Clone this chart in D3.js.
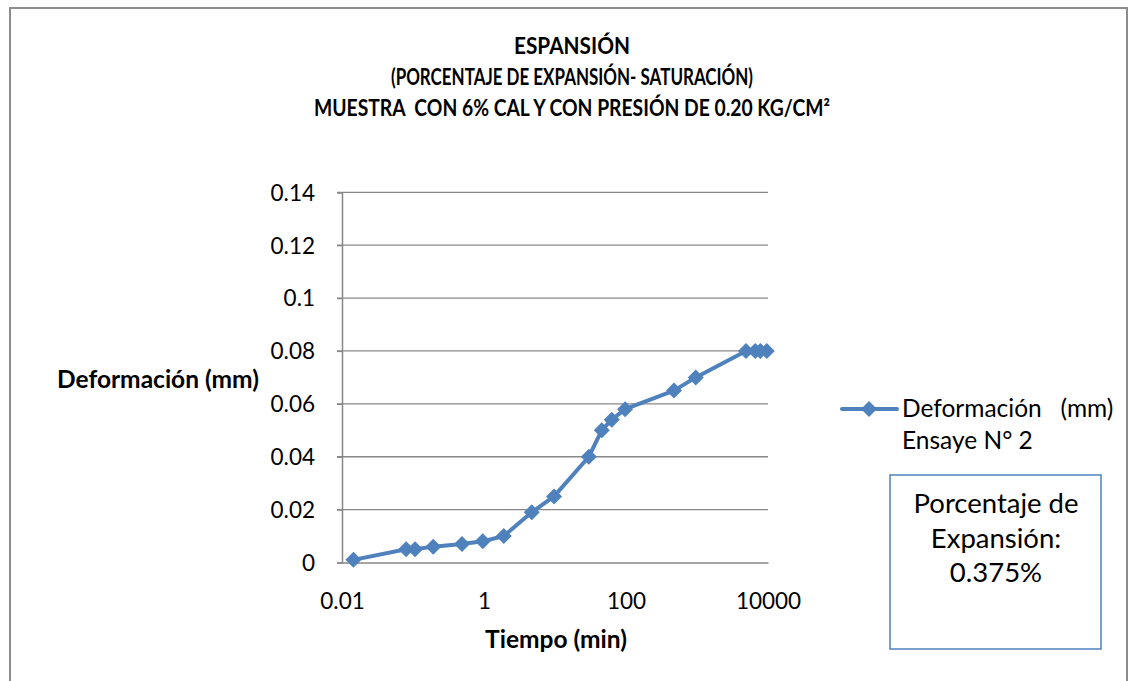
<!DOCTYPE html>
<html><head><meta charset="utf-8">
<script src="https://cdn.jsdelivr.net/npm/d3@7"></script>
<style>
body{margin:0;background:#fff;}
svg text{font-family:Lato,"Open Sans",sans-serif;white-space:pre;}
</style></head>
<body>
<svg id="chart" width="1130" height="681"></svg>
<script>
const titleLines = ["ESPANSIÓN","(PORCENTAJE DE EXPANSIÓN- SATURACIÓN)","MUESTRA  CON 6% CAL Y CON PRESIÓN DE 0.20 KG/CM²"];
const times = [0.0145, 0.08, 0.107, 0.193, 0.49, 0.96, 1.9, 4.7, 9.7, 30, 45.5, 63, 97, 474, 960, 4900, 6600, 7800, 9600];
const deform = [0.001, 0.005, 0.005, 0.006, 0.007, 0.008, 0.010, 0.019, 0.025, 0.040, 0.050, 0.054, 0.058, 0.065, 0.070, 0.080, 0.080, 0.080, 0.080];
const xTicks = [0.01, 1, 100, 10000];
const xTickLabels = ["0.01","1","100","10000"];
const yTicks = [0, 0.02, 0.04, 0.06, 0.08, 0.1, 0.12, 0.14];
const yTickLabels = ["0","0.02","0.04","0.06","0.08","0.1","0.12","0.14"];
const seriesName = "Deformación   (mm)";
const seriesName2 = "Ensaye N° 2";
const boxLines = ["Porcentaje de","Expansión:","0.375%"];
const xLabel = "Tiempo (min)";
const yLabel = "Deformación (mm)";

const color = "#4F81BD";
const svg = d3.select("#chart");
const L = 342, R = 768, T = 192.3, B = 562.5;
const x = d3.scaleLog().domain([0.01, 10000]).range([L, R]);
const y = d3.scaleLinear().domain([0, 0.14]).range([B, T]);

// outer border
svg.append("rect").attr("x",10).attr("y",8).attr("width",1117).attr("height",690)
  .attr("fill","#fff").attr("stroke","#8c8c8c").attr("stroke-width",2);

// title
const titleW = [116, 362, 516];
titleLines.forEach((t,i)=>svg.append("text").attr("x",572).attr("y",54+i*31)
  .attr("text-anchor","middle").attr("font-weight","bold").attr("font-size",22.5)
  .attr("textLength",titleW[i]).attr("lengthAdjust","spacingAndGlyphs").text(t));

// gridlines
svg.append("g").selectAll("line").data(yTicks.filter(d=>d>0)).join("line")
  .attr("x1",L-5).attr("x2",R).attr("y1",d=>y(d)).attr("y2",d=>y(d))
  .attr("stroke","#878787").attr("stroke-width",1.3);

// axes
const yAxis = d3.axisLeft(y).tickValues(yTicks).tickFormat((d,i)=>yTickLabels[i]).tickSize(5).tickPadding(22);
const gy = svg.append("g").attr("transform",`translate(${L},0)`).call(yAxis);
const xAxis = d3.axisBottom(x).tickValues(xTicks).tickFormat((d,i)=>xTickLabels[i]).tickSize(0).tickPadding(31);
const gx = svg.append("g").attr("transform",`translate(0,${B})`).call(xAxis);
[gx,gy].forEach(g=>{
  g.selectAll(".domain").attr("stroke","#878787").attr("stroke-width",1.5);
  g.selectAll(".tick line").attr("stroke","#878787").attr("stroke-width",1.3);
  g.selectAll("text").attr("font-size",22.5).attr("fill","#000").attr("font-family","Lato, 'Open Sans', sans-serif");
});
gy.selectAll("text").attr("dy","0.35em");

// axis titles
svg.append("text").attr("x",158).attr("y",388).attr("text-anchor","middle")
  .attr("font-weight","bold").attr("font-size",24.5).text(yLabel);
svg.append("text").attr("x",556).attr("y",648).attr("text-anchor","middle")
  .attr("font-weight","bold").attr("font-size",24.5).text(xLabel);

// series
const data = times.map((t,i)=>({t, v:deform[i]}));
svg.append("path").datum(data)
  .attr("d", d3.line().x(d=>x(d.t)).y(d=>y(d.v)))
  .attr("fill","none").attr("stroke",color).attr("stroke-width",4).attr("stroke-linejoin","round");
const diamond = "M0,-8L8,0L0,8L-8,0Z";
svg.append("g").selectAll("path").data(data).join("path")
  .attr("transform",d=>`translate(${x(d.t)},${y(d.v)})`)
  .attr("d",diamond).attr("fill",color);

// legend
svg.append("line").attr("x1",842).attr("x2",897).attr("y1",409).attr("y2",409)
  .attr("stroke",color).attr("stroke-width",4).attr("stroke-linecap","round");
svg.append("path").attr("transform","translate(869,409)").attr("d",diamond).attr("fill",color);
svg.append("text").attr("x",902).attr("y",417).attr("font-size",24.5).text(seriesName);
svg.append("text").attr("x",902).attr("y",449).attr("font-size",24.5).text(seriesName2);

// text box
svg.append("rect").attr("x",890).attr("y",475).attr("width",211).attr("height",174)
  .attr("fill","#fff").attr("stroke",color).attr("stroke-width",1.5);
boxLines.forEach((t,i)=>svg.append("text").attr("x",996).attr("y",513+i*34.5)
  .attr("text-anchor","middle").attr("font-size",27.5).text(t));
</script>
</body></html>
